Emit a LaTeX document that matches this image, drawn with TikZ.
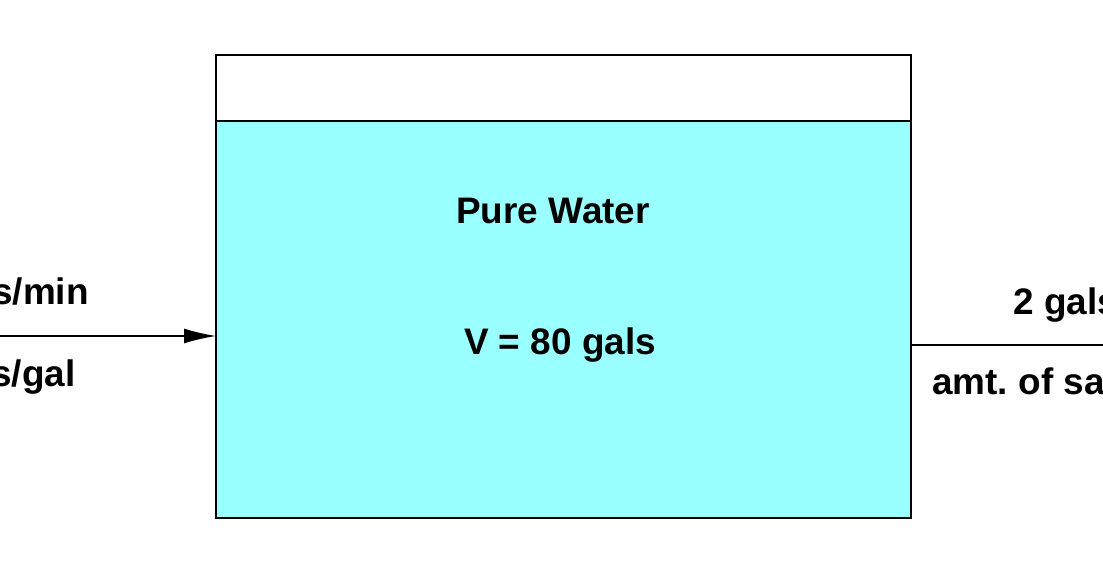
\documentclass[tikz,border=0pt]{standalone}
\usepackage{fontspec}
\setmainfont{Liberation Sans}
\usetikzlibrary{arrows.meta}
\definecolor{water}{RGB}{153,255,255}

\begin{document}
\begin{tikzpicture}[lbl/.style={inner sep=0pt, font=\fontsize{21}{25}\selectfont\bfseries}]
\useasboundingbox (0,0) rectangle (22.06,11.58);
\clip (0,0) rectangle (22.06,11.58);
\fill [water] (4.32,1.22) rectangle (18.22,9.16);
\draw [line width=1.2pt] (4.32,1.22) rectangle (18.22,10.48);
\draw [line width=1.2pt] (4.32,9.16) -- (18.22,9.16);
\node [lbl, anchor=base] (pure) at (11.06,7.1) {Pure Water};
\node [lbl, anchor=base] (vol) at (11.2,4.48) {V = 80 gals};
\coordinate (inlet) at (-0.1,4.86);
\coordinate (tankin) at (4.32,4.86);
\coordinate (tankout) at (18.22,4.68);
\coordinate (drain) at (22.2,4.68);
\draw [line width=0.8pt, -{Latex[length=6.4mm,width=3mm]}] (inlet) -- (tankin);
\draw [line width=0.8pt] (tankout) -- (drain);
\node [lbl, anchor=base west] (rate) at (-0.16,5.48) {s/min};
\node [lbl, anchor=base west] (conc) at (-0.18,3.84) {s/gal};
\node [lbl, anchor=base west] (out) at (20.26,5.28) {2 gals};
\node [lbl, anchor=base west] (amt) at (18.64,3.68) {amt.\ of sa};
\end{tikzpicture}
\end{document}
